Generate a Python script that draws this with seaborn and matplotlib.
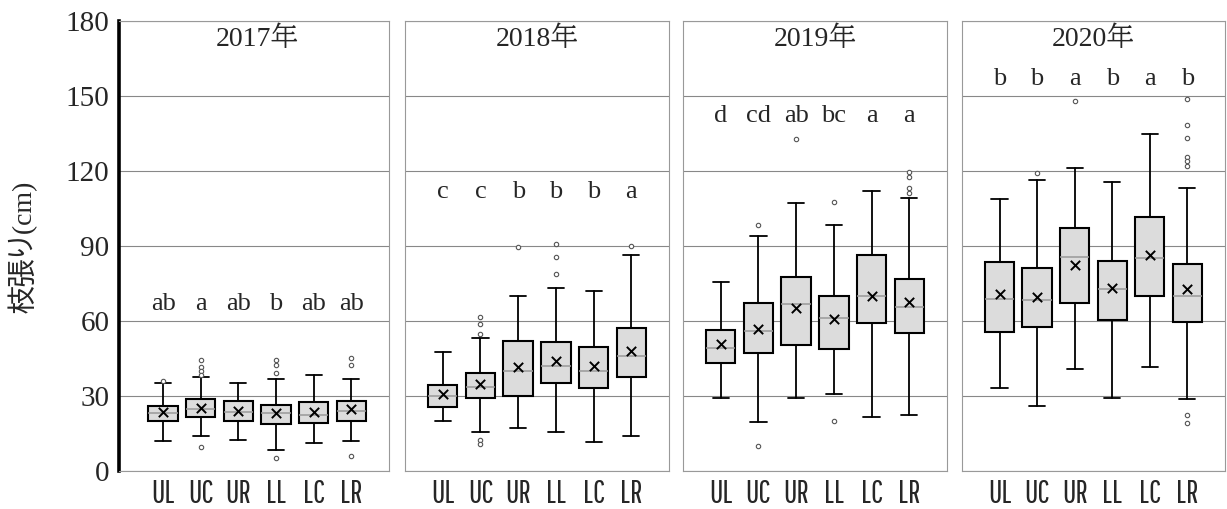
import numpy as np
import pandas as pd
import seaborn as sns
import matplotlib.pyplot as plt

cats = ["UL", "UC", "UR", "LL", "LC", "LR"]
years = ["2017", "2018", "2019", "2020"]

# box statistics (cm)
q1 = {
    "2017": [20.1, 21.5, 20.1, 18.8, 19.1, 20.1],
    "2018": [25.5, 29.1, 30.0, 35.3, 33.1, 37.5],
    "2019": [43.1, 47.3, 50.5, 48.8, 59.3, 55.1],
    "2020": [55.6, 57.5, 67.1, 60.4, 70.0, 59.5],
}
med = {
    "2017": [23.1, 24.7, 23.5, 23.1, 22.4, 24.1],
    "2018": [30.0, 33.7, 40.0, 42.1, 40.0, 45.9],
    "2019": [49.1, 55.9, 66.7, 61.1, 70.0, 65.5],
    "2020": [68.7, 68.4, 85.7, 72.8, 85.1, 70.1],
}
q3 = {
    "2017": [26.0, 28.7, 28.0, 26.4, 27.7, 28.0],
    "2018": [34.4, 39.1, 52.1, 51.6, 49.7, 57.1],
    "2019": [56.4, 67.3, 77.5, 70.0, 86.4, 76.9],
    "2020": [83.6, 81.3, 97.1, 84.1, 101.5, 82.9],
}
whis_lo = {
    "2017": [12.0, 14.1, 12.4, 8.4, 11.1, 12.0],
    "2018": [20.1, 15.7, 17.1, 15.7, 11.5, 14.1],
    "2019": [29.3, 19.5, 29.3, 30.7, 21.7, 22.5],
    "2020": [33.1, 26.0, 40.7, 29.3, 41.5, 28.7],
}
whis_hi = {
    "2017": [35.1, 37.7, 35.1, 36.9, 38.4, 36.8],
    "2018": [47.5, 53.1, 70.0, 73.1, 72.1, 86.3],
    "2019": [75.6, 94.0, 107.3, 98.5, 112.0, 109.1],
    "2020": [108.9, 116.5, 121.1, 115.5, 134.7, 113.1],
}
means = {
    "2017": [23.5, 25.1, 24.0, 23.2, 23.7, 24.7],
    "2018": [30.8, 34.7, 41.7, 44.0, 42.1, 47.9],
    "2019": [50.7, 56.9, 65.2, 60.7, 70.1, 67.5],
    "2020": [70.8, 69.7, 82.4, 73.1, 86.4, 72.8],
}
outliers = {
    "2017": [[36.1], [44.4, 41.7, 40.0, 38.4, 9.5], [], [44.4, 42.4, 39.1, 5.3], [], [45.1, 42.4, 6.0]],
    "2018": [[], [61.7, 58.8, 54.9, 12.5, 10.6], [89.6], [90.8, 85.6, 78.8], [], [90.1]],
    "2019": [[], [98.3, 10.0], [132.8], [107.7, 20.1], [], [119.7, 117.7, 113.1, 111.1]],
    "2020": [[], [119.1], [148.0], [], [], [148.8, 138.1, 133.1, 125.7, 124.0, 122.1, 22.4, 19.1]],
}
letters = {
    "2017": ["ab", "a", "ab", "b", "ab", "ab"],
    "2018": ["c", "c", "b", "b", "b", "a"],
    "2019": ["d", "cd", "ab", "bc", "a", "a"],
    "2020": ["b", "b", "a", "b", "a", "b"],
}
letter_y = {"2017": 64.4, "2018": 109.0, "2019": 139.3, "2020": 154.4}

sns.set_style("white")
serif_jp = ["Liberation Serif", "BIZ UDPMincho", "Noto Sans CJK JP"]
ylab_font = ["Liberation Serif", "BIZ UDPGothic", "Noto Sans CJK JP"]
narrow = ["Pathway Gothic One", "Oswald", "Antonio", "DejaVu Sans"]

fig = plt.figure(figsize=(12.27, 5.09), dpi=100)
bottom, height = 0.0747, 0.8847
panels = [(0.0970, 0.2200, -1.17), (0.3301, 0.2152, -1.0),
          (0.5566, 0.2152, -1.0), (0.7840, 0.2143, -1.0)]

pos = np.arange(len(cats))
for i, yr in enumerate(years):
    left, width, xmin = panels[i]
    ax = fig.add_axes([left, bottom, width, height])
    ax.set_axisbelow(True)
    ax.yaxis.grid(True, color="#888888", linewidth=0.8)

    stats = []
    for j in range(len(cats)):
        stats.append(dict(med=med[yr][j], q1=q1[yr][j], q3=q3[yr][j],
                          whislo=whis_lo[yr][j], whishi=whis_hi[yr][j], fliers=[]))
    ax.bxp(stats, positions=pos, widths=0.78, capwidths=0.43, showfliers=False,
           patch_artist=True,
           boxprops=dict(facecolor="#dcdcdc", edgecolor="black", linewidth=1.5),
           medianprops=dict(color="#999999", linewidth=1.1),
           whiskerprops=dict(color="black", linewidth=1.3),
           capprops=dict(color="black", linewidth=1.3))

    fl = pd.DataFrame([(j, v) for j in range(len(cats)) for v in outliers[yr][j]],
                      columns=["pos", "val"])
    if len(fl):
        sns.scatterplot(data=fl, x="pos", y="val", ax=ax, marker="o", s=10,
                        facecolor="white", edgecolor="#555555", linewidth=0.8, zorder=4)
    sns.scatterplot(x=pos, y=means[yr], ax=ax, marker="x", s=45, color="black",
                    linewidth=1.4, zorder=5)

    for j, lab in enumerate(letters[yr]):
        ax.text(j, letter_y[yr], lab, ha="center", va="baseline",
                fontsize=19, family=serif_jp)
    ax.text(2.5, 169.7, yr + "年", ha="center", va="baseline",
            fontsize=20, family=serif_jp)

    ax.set_xlim(xmin, 6)
    ax.set_ylim(0, 180)
    ax.set_yticks(np.arange(0, 181, 30))
    ax.set_xticks(pos)
    ax.set_xticklabels(cats, fontsize=23, family=narrow)
    ax.set_xlabel("")
    ax.set_ylabel("")
    ax.tick_params(axis="both", length=0)
    ax.tick_params(axis="x", pad=6)
    for s in ax.spines.values():
        s.set_color("#999999")
        s.set_linewidth(0.8)
    if i == 0:
        ax.set_yticklabels([str(v) for v in range(0, 181, 30)], fontsize=21,
                           family=serif_jp)
        ax.tick_params(axis="y", pad=7)
        ax.spines["left"].set_color("black")
        ax.spines["left"].set_linewidth(2.6)
    else:
        ax.set_yticklabels([])

fig.text(23 / 1227, (509 - 247) / 509, "枝張り(cm)", rotation=90, ha="center",
         va="center", fontsize=20, family=ylab_font)

fig.savefig("out.png", dpi=100)
